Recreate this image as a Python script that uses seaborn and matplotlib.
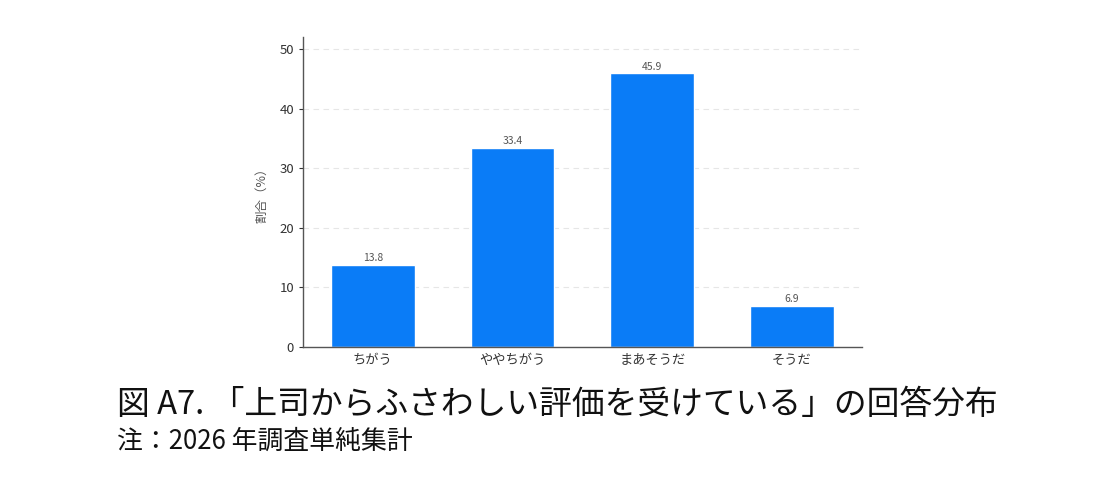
import matplotlib
matplotlib.use("Agg")
import matplotlib.pyplot as plt
import seaborn as sns
import pandas as pd

categories = ["ちがう", "ややちがう", "まあそうだ", "そうだ"]
values = [13.8, 33.4, 45.9, 6.9]
yticks = [0, 10, 20, 30, 40, 50]
ylabel = "割合（%）"
title = "図 A7. 「上司からふさわしい評価を受けている」の回答分布"
note = "注：2026 年調査単純集計"

sns.set_theme(style="white")
plt.rcParams['font.family'] = ['Noto Sans CJK JP', 'DejaVu Sans']

df = pd.DataFrame({"cat": categories, "val": values})

fig = plt.figure(figsize=(11.2, 4.94), dpi=100)
ax = fig.add_axes([0.2705, 0.2976, 0.499, 0.6275])

sns.barplot(data=df, x="cat", y="val", color="#0A7CF7", saturation=1, width=0.6, ax=ax)
ax.set_xlim(-0.5, 3.5)
ax.set_ylim(0, 52)
ax.set_yticks(yticks)
ax.yaxis.grid(True, linestyle=(0, (5, 4)), color="#e6e6e6", linewidth=0.8)
ax.set_axisbelow(True)
for s in ["top", "right"]:
    ax.spines[s].set_visible(False)
for s in ["left", "bottom"]:
    ax.spines[s].set_color("#555555")
    ax.spines[s].set_linewidth(1.0)
ax.tick_params(axis="both", labelsize=9.5, colors="#333333", length=3, width=0.8, left=True, bottom=False)
ax.tick_params(axis="x", pad=2)
ax.set_xlabel("")
ax.set_ylabel(ylabel, fontsize=9, color="#555555", labelpad=8)

ax.bar_label(ax.containers[0], labels=[f"{v:.1f}" for v in values], fontsize=7.5, color="#555555", padding=1)

fig.text(117 / 1120, 1 - 405 / 494, title, fontsize=23.6, color="#111111", va="center", ha="left")
fig.text(117 / 1120, 1 - 441 / 494, note, fontsize=18.6, color="#111111", va="center", ha="left")

fig.savefig("out.png", dpi=100, facecolor="white")
